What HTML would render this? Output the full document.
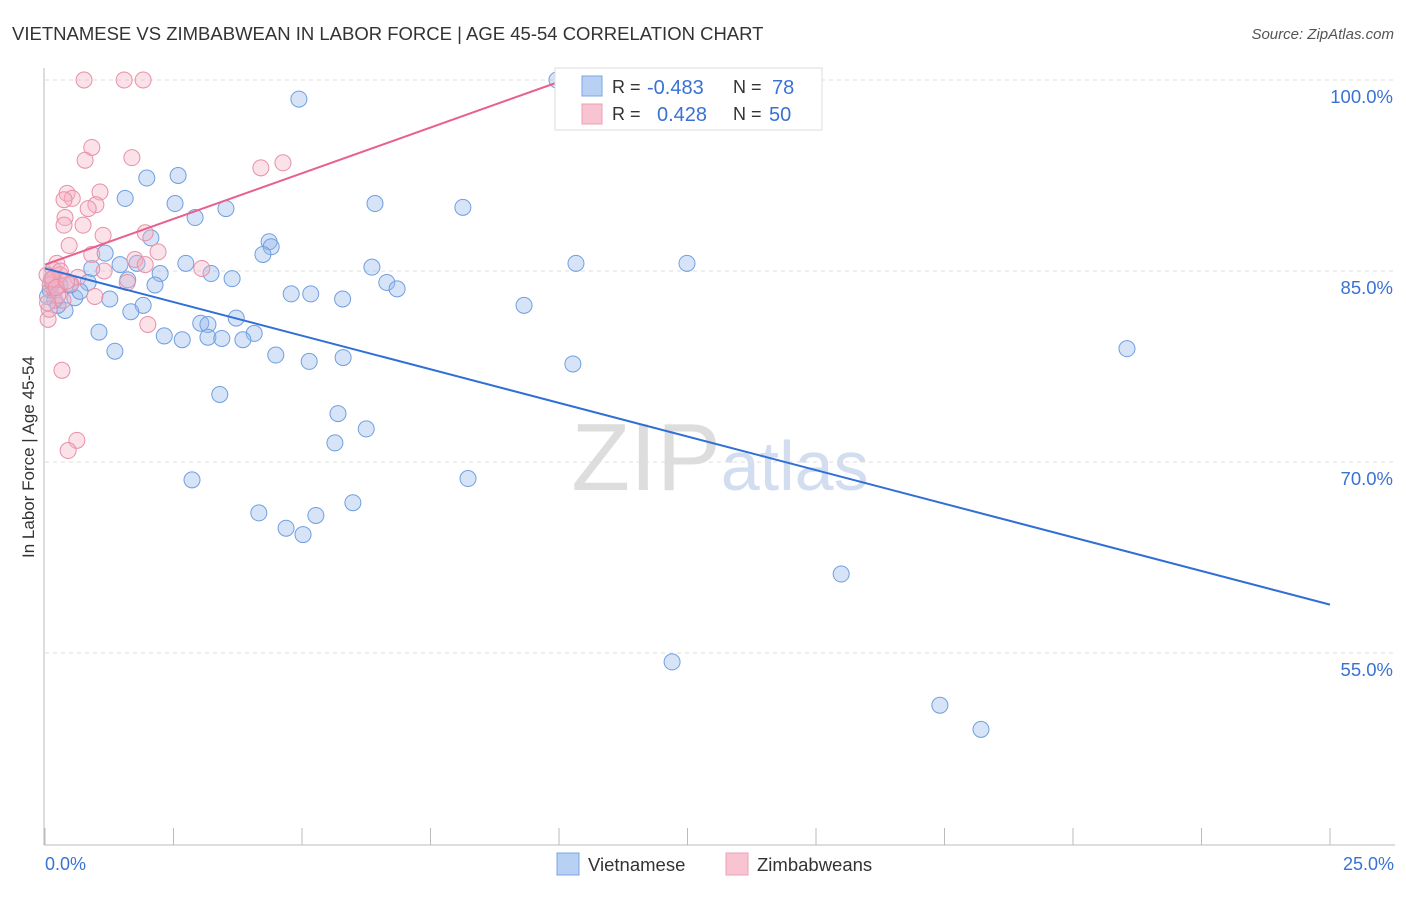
<!DOCTYPE html>
<html><head><meta charset="utf-8"><style>
body{margin:0;background:#fff;font-family:"Liberation Sans",sans-serif}
svg text{font-family:"Liberation Sans",sans-serif}
</style></head><body>
<svg width="1406" height="892" id="c">
<text x="12" y="40" font-size="18.5" fill="#333">VIETNAMESE VS ZIMBABWEAN IN LABOR FORCE | AGE 45-54 CORRELATION CHART</text>
<text x="1394" y="39" font-size="15" fill="#555" font-style="italic" text-anchor="end">Source: ZipAtlas.com</text>
<text x="34" y="457" font-size="17" fill="#333" text-anchor="middle" transform="rotate(-90 34 457)">In Labor Force | Age 45-54</text>
<text x="720" y="490" font-size="96" fill="#ddd" text-anchor="middle" font-family="Liberation Serif">ZIP<tspan fill="#d2def0" font-family="Liberation Sans" font-size="70">atlas</tspan></text>
<g id="grid"></g><g id="pts"></g><g id="lines"></g>
<line x1="44" y1="68" x2="44" y2="845" stroke="#bbb"/>
<line x1="44" y1="845" x2="1395" y2="845" stroke="#bbb"/>
<text x="45" y="870" font-size="18" fill="#3a72d4">0.0%</text>
<text x="1394" y="870" font-size="18" fill="#3a72d4" text-anchor="end">25.0%</text>
<g>
<rect x="555" y="68" width="267" height="62" fill="#fff" stroke="#ddd"/>
<rect x="582" y="76" width="20" height="20" fill="#b8d0f4" stroke="#7ea6e4"/>
<rect x="582" y="104" width="20" height="20" fill="#f9c4d2" stroke="#eba0b6"/>
<text x="612" y="93" font-size="18" fill="#333">R =</text>
<text x="647" y="94" font-size="20" fill="#3a72d4">-0.483</text>
<text x="733" y="93" font-size="18" fill="#333">N =</text>
<text x="772" y="94" font-size="20" fill="#3a72d4">78</text>
<text x="612" y="120" font-size="18" fill="#333">R =</text>
<text x="657" y="121" font-size="20" fill="#3a72d4">0.428</text>
<text x="733" y="120" font-size="18" fill="#333">N =</text>
<text x="769" y="121" font-size="20" fill="#3a72d4">50</text>
</g>
<g>
<rect x="557" y="853" width="22" height="22" fill="#b8d0f4" stroke="#7ea6e4"/>
<text x="588" y="871" font-size="18.5" fill="#333">Vietnamese</text>
<rect x="726" y="853" width="22" height="22" fill="#f9c4d2" stroke="#eba0b6"/>
<text x="757" y="871" font-size="18.5" fill="#333">Zimbabweans</text>
</g>
</svg>
<script>
const yTicks=[100,85,70,55];
const yTickLabels=["100.0%","85.0%","70.0%","55.0%"];
const xTicks=[0,2.5,5,7.5,10,12.5,15,17.5,20,22.5,25];
const viX=[9.96,4.94,1.56,1.98,2.59,2.53,2.92,3.52,6.42,8.13,2.06,4.36,4.40,4.24,1.17,1.46,1.79,2.74,3.23,3.64,2.24,2.14,1.61,0.91,0.84,6.36,6.65,6.85,4.79,5.17,5.79,9.32,10.33,12.49,1.26,1.91,1.67,1.05,3.03,3.17,3.72,4.07,2.32,2.67,3.17,3.44,3.85,1.36,4.49,5.14,5.80,10.27,21.05,3.40,5.70,6.25,5.64,2.86,8.23,4.16,4.69,5.02,5.27,5.99,15.49,12.20,17.41,18.21,0.10,0.19,0.29,0.39,0.58,0.68,0.25,0.14,0.49,0.05];
const viY=[100,98.5,90.7,92.3,92.5,90.3,89.2,89.9,90.3,90.0,87.6,87.3,86.9,86.3,86.4,85.5,85.6,85.6,84.8,84.4,84.8,83.9,84.3,85.2,84.1,85.3,84.1,83.6,83.2,83.2,82.8,82.3,85.6,85.6,82.8,82.3,81.8,80.2,80.9,80.8,81.3,80.1,79.9,79.6,79.8,79.7,79.6,78.7,78.4,77.9,78.2,77.7,78.9,75.3,73.8,72.6,71.5,68.6,68.7,66.0,64.8,64.3,65.8,66.8,61.2,54.3,50.9,49.0,83.5,82.7,83.9,81.9,82.9,83.4,82.3,84.1,83.9,83.0];
const ziX=[0.76,1.54,1.91,0.91,0.78,1.69,4.20,4.63,0.43,0.53,1.07,0.37,0.99,0.84,0.39,0.37,0.74,1.13,1.95,0.47,0.91,2.20,1.75,1.95,3.05,1.15,0.23,0.16,0.29,0.64,1.60,0.97,2.00,0.33,0.62,0.45,0.06,0.19,0.35,0.10,0.04,0.12,0.25,0.50,0.08,0.30,0.15,0.22,0.42,0.05];
const ziY=[100,100,100,94.7,93.7,93.9,93.1,93.5,91.1,90.7,91.2,90.6,90.2,89.9,89.2,88.6,88.6,87.8,88.0,87.0,86.3,86.5,85.9,85.5,85.2,85.0,85.6,85.1,84.7,84.5,84.1,83.0,80.8,77.2,71.7,70.9,81.2,83.5,82.7,83.9,84.7,84.3,83.1,84.0,82.0,85.0,84.4,83.7,84.2,82.5];
const viLine=[[0,85.2],[25,58.8]];
const ziLine=[[0,85.5],[10.1,100]];
const X=v=>45+v/25*1285, Y=v=>80+(100-v)*12.733;
const NS="http://www.w3.org/2000/svg";
function mk(t,a,p){const e=document.createElementNS(NS,t);for(const k in a)e.setAttribute(k,a[k]);p.appendChild(e);return e;}
const g=document.getElementById('grid');
yTicks.forEach((t,i)=>{
 const l=mk('line',{x1:45,x2:1395,y1:Y(t),y2:Y(t),stroke:'#ddd','stroke-dasharray':'4 4'},g);
 
 
 const tx=mk('text',{x:1393,y:Y(t)+23,'font-size':18.5,fill:'#3a72d4','text-anchor':'end'},g);
 tx.textContent=yTickLabels[i];
 
 
});
xTicks.forEach(t=>{
 const l=mk('line',{x1:X(t),x2:X(t),y1:828,y2:845,stroke:'#bbb'},g);
 
 
});
const p=document.getElementById('pts');
viX.forEach((v,i)=>{
 const c=mk('circle',{cx:X(v),cy:Y(viY[i]),r:8,fill:'rgba(150,185,235,0.38)',stroke:'#6f9fe0','stroke-width':1},p);
 
 
});
ziX.forEach((v,i)=>{
 const c=mk('circle',{cx:X(v),cy:Y(ziY[i]),r:8,fill:'rgba(245,175,195,0.38)',stroke:'#e890a8','stroke-width':1},p);
 
 
});
const L=document.getElementById('lines');
const bl=mk('line',{x1:X(viLine[0][0]),y1:Y(viLine[0][1]),x2:X(viLine[1][0]),y2:Y(viLine[1][1]),stroke:'#2f6fd6','stroke-width':2},L);


const pl=mk('line',{x1:X(ziLine[0][0]),y1:Y(ziLine[0][1]),x2:X(ziLine[1][0]),y2:Y(ziLine[1][1]),stroke:'#e8608e','stroke-width':2},L);


</script>
</body></html>
